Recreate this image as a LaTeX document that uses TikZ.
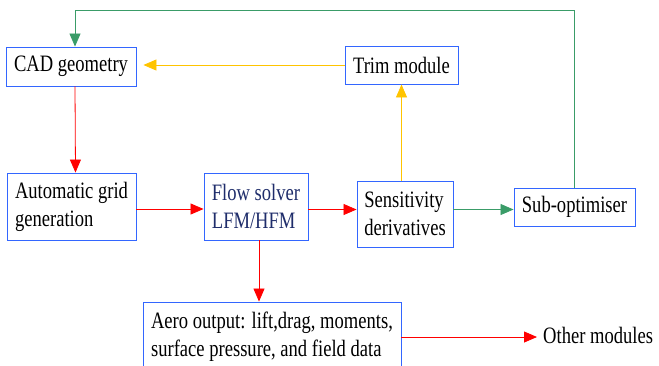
\documentclass[tikz,border=0pt]{standalone}
\usepackage{fontspec}
\setmainfont{Liberation Serif}[FakeStretch=0.79]
\usetikzlibrary{arrows.meta}
\definecolor{boxblue}{HTML}{3366FF}
\definecolor{arrred}{HTML}{FF0000}
\definecolor{arrgreen}{HTML}{3A9C68}
\definecolor{arryellow}{HTML}{FFC400}
\definecolor{navy}{HTML}{1F2D6B}
\begin{document}
\begin{tikzpicture}[x=1pt,y=-1pt,
  box/.style={draw=boxblue,line width=0.9pt,inner sep=0pt,font=\fontsize{23.5}{28}\selectfont,align=left,fill=white},
  tip/.style={-{Triangle[length=13pt,width=11pt]}},
  redarr/.style={draw=arrred,line width=0.8pt,tip},
  greenarr/.style={draw=arrgreen,line width=0.8pt,tip},
  yellowarr/.style={draw=arryellow,line width=0.8pt,tip}]
\useasboundingbox (0,0) rectangle (659,365);
\clip (0,0) rectangle (659,365);
\node[box,minimum width=130pt,minimum height=39pt] (cad) at (71,66.5) {CAD geometry};
\node[box,minimum width=113pt,minimum height=38pt] (trim) at (401.5,65) {Trim module};
\node[box,minimum width=129pt,minimum height=67pt] (grid) at (71.5,206.5) {Automatic grid\\generation};
\node[box,minimum width=104pt,minimum height=67pt,text=navy] (flow) at (256,206.5) {Flow solver\\LFM/HFM};
\node[box,minimum width=96pt,minimum height=66pt] (sens) at (405,214) {Sensitivity\\derivatives};
\node[box,minimum width=121pt,minimum height=38pt] (sub) at (574.5,207) {Sub-optimiser};
\node[box,minimum width=258pt,minimum height=70pt] (aero) at (272,337) {Aero output: lift,drag, moments,\\surface pressure, and field data};
\node[inner sep=0pt,anchor=base west,font=\fontsize{23.5}{28}\selectfont] (other) at (543,343) {Other modules};

% green feedback
\draw[greenarr] (sub.north) -- ++(0,-177) -| ([xshift=4pt]cad.north);
% yellow
\draw[yellowarr] (sens.north -| trim.south) -- (trim.south);
\draw[yellowarr,shorten >=7pt] (trim.west) -- (trim.west -| cad.east);
% red
\draw[redarr] ([xshift=4pt]cad.south) -- ([xshift=4pt]grid.north);
\draw[redarr] ([yshift=-2.5pt]grid.east) -- ([yshift=-2.5pt]flow.west);
\draw[redarr] ([yshift=-3pt]flow.east) -- ([yshift=-3pt]flow.east -| sens.west);
\draw[redarr] ([xshift=3pt]flow.south) -- ([xshift=3pt]flow.south |- aero.north);
\draw[redarr,shorten >=6pt] (aero.east) -- (aero.east -| other.west);
% green
\draw[greenarr] ([yshift=-2.5pt]sub.west -| sens.east) -- ([yshift=-2.5pt]sub.west);
\end{tikzpicture}
\end{document}
